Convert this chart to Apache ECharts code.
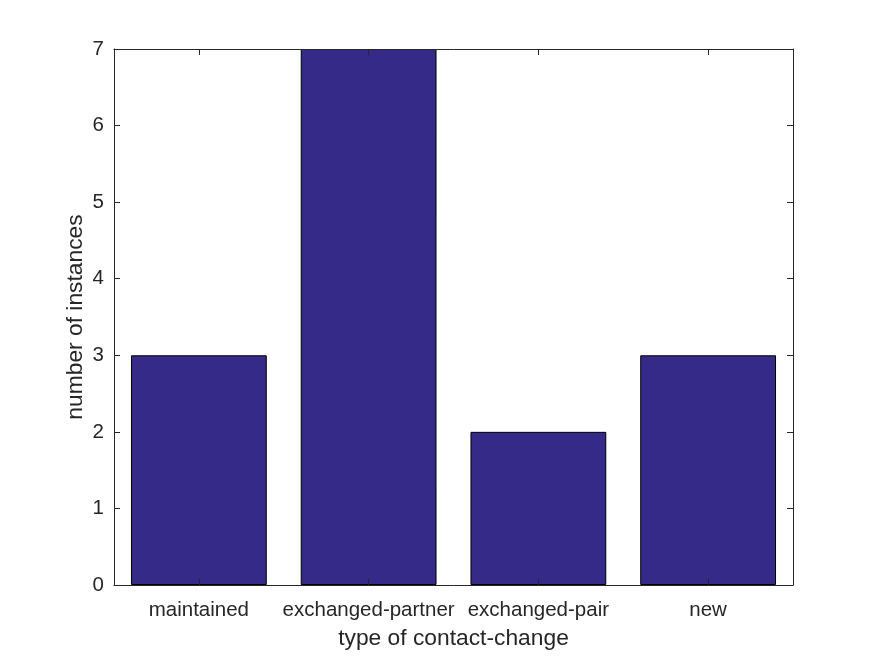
<!DOCTYPE html>
<html>
<head>
<meta charset="utf-8">
<script src="https://cdn.jsdelivr.net/npm/echarts@6/dist/echarts.min.js"></script>
<style>
  html, body { margin: 0; padding: 0; background: #fff; }
  #chart { width: 875px; height: 656px; }
</style>
</head>
<body>
<div id="chart"></div>
<script>
// data
const categories = ['maintained', 'exchanged-partner', 'exchanged-pair', 'new']
const counts = [3, 7, 2, 3]
const yTicks = [0, 1, 2, 3, 4, 5, 6, 7]

const ink = '#262626'
const font = "'Liberation Sans', Arial, Helvetica, sans-serif"

const chart = echarts.init(document.getElementById('chart'))

// shared axis look (box + inside ticks, matlab style)
const lineStyle = { color: ink, width: 1 }

chart.setOption({
  animation: false,
  grid: {
    left: 114,
    right: 82,
    top: 49,
    bottom: 71
  },
  xAxis: [
    {
      type: 'category',
      data: categories,
      position: 'bottom',
      z: 10,
      axisLine: { show: true, onZero: false, lineStyle },
      axisTick: { show: true, inside: true, alignWithLabel: true, interval: 0, length: 6, lineStyle },
      axisLabel: { color: ink, fontSize: 20.5, fontFamily: font, margin: 15, interval: 0, hideOverlap: false },
      name: 'type of contact-change',
      nameLocation: 'middle',
      nameGap: 42,
      nameMoveOverlap: false,
      nameTextStyle: { color: ink, fontSize: 22.8, fontFamily: font }
    },
    {
      type: 'category',
      data: categories,
      position: 'top',
      z: 10,
      axisLine: { show: true, onZero: false, lineStyle },
      axisTick: { show: true, inside: true, alignWithLabel: true, interval: 0, length: 6, lineStyle },
      axisLabel: { show: false }
    }
  ],
  yAxis: [
    {
      type: 'value',
      min: yTicks[0],
      max: yTicks[yTicks.length - 1],
      interval: 1,
      position: 'left',
      z: 10,
      splitLine: { show: false },
      axisLine: { show: true, onZero: false, lineStyle },
      axisTick: { show: true, inside: true, length: 6, lineStyle },
      axisLabel: { color: ink, fontSize: 20.5, fontFamily: font, margin: 10 },
      name: 'number of instances',
      nameLocation: 'middle',
      nameGap: 27,
      nameMoveOverlap: false,
      nameTextStyle: { color: ink, fontSize: 22.8, fontFamily: font }
    },
    {
      type: 'value',
      min: yTicks[0],
      max: yTicks[yTicks.length - 1],
      interval: 1,
      position: 'right',
      z: 10,
      splitLine: { show: false },
      axisLine: { show: true, onZero: false, lineStyle },
      axisTick: { show: true, inside: true, length: 6, lineStyle },
      axisLabel: { show: false }
    }
  ],
  series: [
    {
      type: 'bar',
      data: counts,
      xAxisIndex: 0,
      yAxisIndex: 0,
      barCategoryGap: '20%',
      itemStyle: {
        color: '#352A87',
        borderColor: '#000',
        borderWidth: 1
      }
    }
  ]
})
</script>
</body>
</html>
